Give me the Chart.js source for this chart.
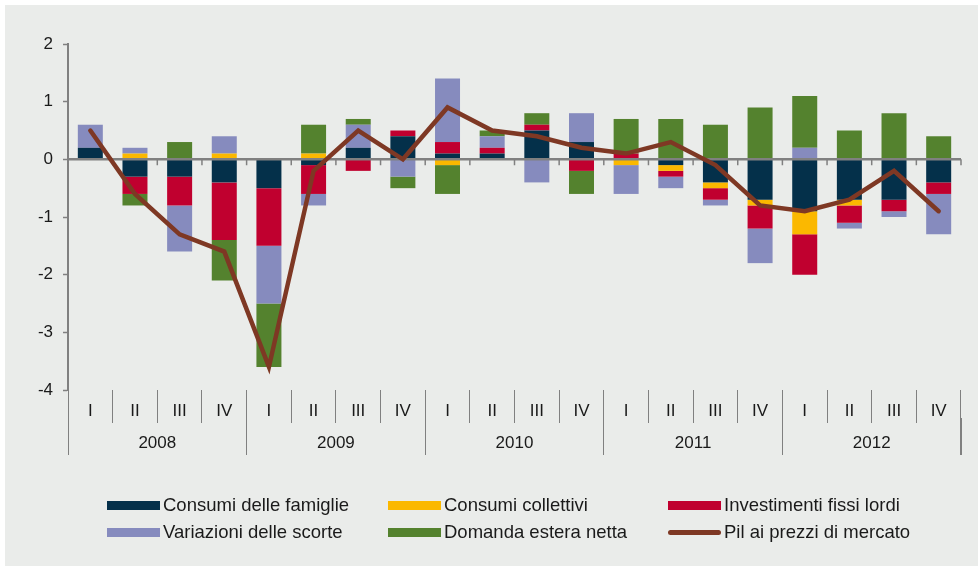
<!DOCTYPE html>
<html>
<head>
<meta charset="utf-8">
<script src="https://cdn.jsdelivr.net/npm/chart.js@4.4.1/dist/chart.umd.min.js"></script>
<style>
    html, body { margin: 0; background: #eaecea; overflow: hidden; }
    #wrap { position: relative; width: 978px; height: 566px; }
    canvas { display: block; }
    .edge { position: absolute; background: #ffffff; }
    #legend {
        position: absolute; left: 107px; top: 495px;
        display: grid; grid-template-columns: 281px 280px 280px; row-gap: 7px;
        font-family: 'Liberation Sans', Arial, sans-serif; font-size: 18.5px; color: #1a1a1a;
    }
    .item { display: flex; align-items: center; height: 20px; white-space: nowrap; }
    .box { width: 53px; height: 9px; margin-right: 3px; flex: none; }
    .ln { width: 53px; height: 5px; border-radius: 3px; margin-right: 3px; flex: none; }
</style>
</head>
<body>
<div id="wrap">
    <canvas id="chart" width="978" height="566"></canvas>
    <div class="edge" style="left:0;top:0;width:978px;height:5px"></div>
    <div class="edge" style="left:0;top:0;width:5px;height:566px"></div>
    <div id="legend"></div>
</div>
<script>
const years = ['2008', '2009', '2010', '2011', '2012'];
const quarters = ['I', 'II', 'III', 'IV'];

const consumiFamiglie = [0.2, -0.3, -0.3, -0.4, -0.5, -0.1, 0.2, 0.4, 0.1, 0.1, 0.5, 0.3, 0, -0.1, -0.4, -0.7, -0.9, -0.7, -0.7, -0.4];
const consumiCollettivi = [0, 0.1, 0, 0.1, 0, 0.1, 0, 0, -0.1, 0, 0, 0, -0.1, -0.1, -0.1, -0.1, -0.4, -0.1, 0, 0];
const investimenti = [0, -0.3, -0.5, -1.0, -1.0, -0.5, -0.2, 0.1, 0.2, 0.1, 0.1, -0.2, 0.1, -0.1, -0.2, -0.4, -0.7, -0.3, -0.2, -0.2];
const scorte = [0.4, 0.1, -0.8, 0.3, -1.0, -0.2, 0.4, -0.3, 1.1, 0.2, -0.4, 0.5, -0.5, -0.2, -0.1, -0.6, 0.2, -0.1, -0.1, -0.7];
const domandaEstera = [0, -0.2, 0.3, -0.7, -1.1, 0.5, 0.1, -0.2, -0.5, 0.1, 0.2, -0.4, 0.6, 0.7, 0.6, 0.9, 0.9, 0.5, 0.8, 0.4];
const pil = [0.5, -0.6, -1.3, -1.6, -3.6, -0.2, 0.5, 0.0, 0.9, 0.5, 0.4, 0.2, 0.1, 0.3, -0.1, -0.8, -0.9, -0.7, -0.2, -0.9];

const axisGray = '#808080';
const labels = years.flatMap(() => quarters);

Chart.defaults.font.family = "'Liberation Sans', Arial, sans-serif";
Chart.defaults.font.size = 17;
Chart.defaults.color = '#1a1a1a';

// zero line goes over the bars but under the GDP line
const zeroLine = {
    id: 'zeroLine',
    beforeDatasetDraw(chart, args) {
        if (args.meta.type !== 'line') return;
        const { ctx, chartArea, scales: { x, y } } = chart;
        const y0 = y.getPixelForValue(0);
        ctx.save();
        ctx.strokeStyle = axisGray;
        ctx.lineWidth = 1.5;
        ctx.beginPath();
        for (let i = 0; i <= labels.length; i++) {
            const px = x.getPixelForValue(i - 0.5);
            ctx.moveTo(px, y0);
            ctx.lineTo(px, y0 + 6);
        }
        ctx.stroke();
        ctx.lineWidth = 2.5;
        ctx.beginPath();
        ctx.moveTo(chartArea.left, y0);
        ctx.lineTo(chartArea.right, y0);
        ctx.stroke();
        ctx.restore();
    },
    // closing line on the right of the category rows
    afterDraw(chart) {
        const { ctx, chartArea } = chart;
        ctx.save();
        ctx.strokeStyle = axisGray;
        ctx.lineWidth = 1;
        ctx.beginPath();
        ctx.moveTo(Math.round(chartArea.right) - 0.5, chartArea.bottom);
        ctx.lineTo(Math.round(chartArea.right) - 0.5, chartArea.bottom + 65);
        ctx.stroke();
        ctx.restore();
    }
};

function bar(label, data, color) {
    return {
        type: 'bar', label: label, data: data, backgroundColor: color,
        borderWidth: 0, order: 1, stack: 's',
        barPercentage: 0.56, categoryPercentage: 1,
    };
}

const chart = new Chart(document.getElementById('chart'), {
    data: {
        labels: labels,
        datasets: [
            bar('Consumi delle famiglie', consumiFamiglie, '#04304a'),
            bar('Consumi collettivi', consumiCollettivi, '#fbb800'),
            bar('Investimenti fissi lordi', investimenti, '#c0002f'),
            bar('Variazioni delle scorte', scorte, '#868bbe'),
            bar('Domanda estera netta', domandaEstera, '#54822e'),
            {
                type: 'line', label: 'Pil ai prezzi di mercato', data: pil,
                borderColor: '#7e3824', borderWidth: 4.5, pointRadius: 0,
                tension: 0, borderCapStyle: 'round', order: 0,
            },
        ],
    },
    options: {
        responsive: false,
        animation: false,
        layout: { padding: { top: 44, right: 17, left: 0, bottom: 108 } },
        plugins: { legend: { display: false }, tooltip: { enabled: false } },
        scales: {
            x: {
                stacked: true,
                offset: true,
                border: { display: false },
                grid: { offset: true, drawOnChartArea: false, tickLength: 33, color: axisGray, lineWidth: 1 },
                ticks: { autoSkip: false, maxRotation: 0, padding: -22 },
                afterFit(scale) { scale.height = 28; },
            },
            x2: {
                type: 'category',
                labels: years,
                position: 'bottom',
                offset: true,
                border: { display: false },
                grid: { offset: true, drawOnChartArea: false, tickLength: 37, color: axisGray, lineWidth: 1 },
                ticks: { autoSkip: false, maxRotation: 0, padding: -22 },
                afterFit(scale) { scale.height = 40; },
            },
            y: {
                stacked: true,
                min: -4,
                max: 2,
                border: { color: axisGray, width: 2 },
                grid: { color: 'transparent', tickColor: axisGray, tickLength: 5, tickWidth: 1.5 },
                ticks: { stepSize: 1, padding: 10 },
                afterFit(scale) { scale.width = 68; },
            },
        },
    },
    plugins: [zeroLine],
});

// legend laid out in three columns like the original
const legend = document.getElementById('legend');
chart.data.datasets.forEach(ds => {
    const item = document.createElement('div');
    item.className = 'item';
    const mark = document.createElement('span');
    if (ds.type === 'line') {
        mark.className = 'ln';
        mark.style.background = ds.borderColor;
    } else {
        mark.className = 'box';
        mark.style.background = ds.backgroundColor;
    }
    item.appendChild(mark);
    item.appendChild(document.createTextNode(ds.label));
    legend.appendChild(item);
});
</script>
</body>
</html>
